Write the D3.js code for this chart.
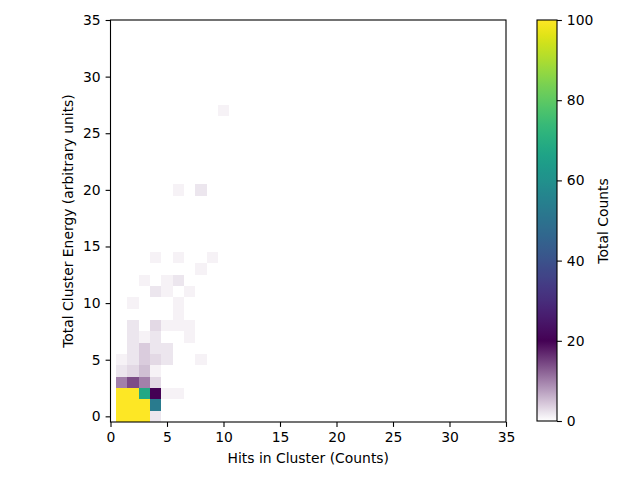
<!DOCTYPE html>
<html>
<head>
<meta charset="utf-8">
<script src="https://cdn.jsdelivr.net/npm/d3@7"></script>
<style>
  body { margin: 0; background: #fff; }
  svg { font-family: "DejaVu Sans", sans-serif; }
</style>
</head>
<body>
<svg id="chart" width="640" height="480"></svg>
<script>
// histogram cells: bin centre on each axis (bins are 1 unit wide) and count
const hitBins    = [1, 2, 3, 4,  1, 2, 3, 4,  1, 2, 3, 4, 5, 6,  1, 2, 3, 4,  1, 2, 3, 4,  1, 2, 3, 4, 5, 8,  2, 3, 4, 5,  2, 3, 4, 7,  2, 4, 5, 6, 7,  6,  2, 6,  4, 5, 7,  3, 5, 6,  8,  4, 6, 9,  6, 8,  10];
const energyBins = [0, 0, 0, 0,  1, 1, 1, 1,  2, 2, 2, 2, 2, 2,  3, 3, 3, 3,  4, 4, 4, 4,  5, 5, 5, 5, 5, 5,  6, 6, 6, 6,  7, 7, 7, 7,  8, 8, 8, 8, 8,  9,  10, 10,  11, 11, 11,  12, 12, 12,  13,  14, 14, 14,  20, 20,  27];
const counts     = [420, 390, 160, 2,  380, 350, 140, 53,  210, 180, 68, 20, 1, 1,  10, 14, 10, 3,  2, 3, 5, 1,  1, 2, 4, 3, 2, 1,  2, 4, 2, 2,  2, 1, 2, 1,  2, 3, 1, 1, 1,  1,  1, 1,  2, 1, 1,  1, 1, 2,  1,  1, 1, 1,  1, 2,  1];

const xTicks = [0, 5, 10, 15, 20, 25, 30, 35];
const yTicks = [0, 5, 10, 15, 20, 25, 30, 35];
const cbTicks = [0, 20, 40, 60, 80, 100];

const cells = counts.map((c, i) => ({ x: hitBins[i], y: energyBins[i], c }));

const svg = d3.select('#chart');
const pLeft = 110.5, pRight = 506, pTop = 20, pBottom = 422;

const x = d3.scaleLinear().domain([0, 35]).range([pLeft, pRight]);
const y = d3.scaleLinear().domain([-0.5, 35]).range([pBottom, pTop]);

// white -> dark purple up to 20, viridis from 20 to 100
function colour(v) {
  if (v <= 20) return d3.interpolateRgb('#ffffff', d3.interpolateViridis(0))(v / 20);
  return d3.interpolateViridis(Math.min(1, (v - 20) / 80));
}

svg.append('g')
  .selectAll('rect')
  .data(cells)
  .join('rect')
  .attr('x', d => x(d.x - 0.5))
  .attr('y', d => y(d.y + 0.5))
  .attr('width', d => x(d.x + 0.5) - x(d.x - 0.5))
  .attr('height', d => y(d.y - 0.5) - y(d.y + 0.5))
  .attr('fill', d => colour(d.c))
  .attr('shape-rendering', 'crispEdges');

// axes
const fs = 13.9, tickLen = 4.9;
const xAxis = svg.append('g')
  .attr('transform', `translate(0,${pBottom})`)
  .call(d3.axisBottom(x).tickValues(xTicks).tickSize(tickLen).tickPadding(4.9));
const yAxis = svg.append('g')
  .attr('transform', `translate(${pLeft},0)`)
  .call(d3.axisLeft(y).tickValues(yTicks).tickSize(tickLen).tickPadding(4.9));
[xAxis, yAxis].forEach(a => {
  a.select('.domain').remove();
  a.selectAll('line').attr('stroke', '#000').attr('stroke-width', 1.1);
  a.selectAll('text').attr('font-size', fs).attr('fill', '#000')
    .attr('font-family', '"DejaVu Sans", sans-serif');
});

svg.append('rect')
  .attr('x', pLeft).attr('y', pTop)
  .attr('width', pRight - pLeft).attr('height', pBottom - pTop)
  .attr('fill', 'none').attr('stroke', '#000').attr('stroke-width', 1.1);

svg.append('text')
  .attr('x', (pLeft + pRight) / 2).attr('y', 463)
  .attr('text-anchor', 'middle').attr('font-size', fs)
  .text('Hits in Cluster (Counts)');

svg.append('text')
  .attr('transform', `translate(73,${(pTop + pBottom) / 2}) rotate(-90)`)
  .attr('text-anchor', 'middle').attr('font-size', fs)
  .text('Total Cluster Energy (arbitrary units)');

// colorbar
const cbLeft = 537, cbWidth = 20;
const cb = d3.scaleLinear().domain([0, 100]).range([pBottom - 1, pTop]);
const grad = svg.append('defs').append('linearGradient')
  .attr('id', 'cbgrad').attr('x1', 0).attr('y1', 1).attr('x2', 0).attr('y2', 0);
d3.range(0, 101, 2).forEach(v => {
  grad.append('stop').attr('offset', v / 100).attr('stop-color', colour(v));
});
svg.append('rect')
  .attr('x', cbLeft).attr('y', pTop)
  .attr('width', cbWidth).attr('height', cb(0) - pTop)
  .attr('fill', 'url(#cbgrad)').attr('stroke', '#000').attr('stroke-width', 1.1);

const cbAxis = svg.append('g')
  .attr('transform', `translate(${cbLeft + cbWidth},0)`)
  .call(d3.axisRight(cb).tickValues(cbTicks).tickSize(tickLen).tickPadding(4.9));
cbAxis.select('.domain').remove();
cbAxis.selectAll('line').attr('stroke', '#000').attr('stroke-width', 1.1);
cbAxis.selectAll('text').attr('font-size', fs).attr('fill', '#000')
  .attr('font-family', '"DejaVu Sans", sans-serif');

svg.append('text')
  .attr('transform', `translate(608,${(pTop + pBottom) / 2}) rotate(-90)`)
  .attr('text-anchor', 'middle').attr('font-size', fs)
  .text('Total Counts');
</script>
</body>
</html>
